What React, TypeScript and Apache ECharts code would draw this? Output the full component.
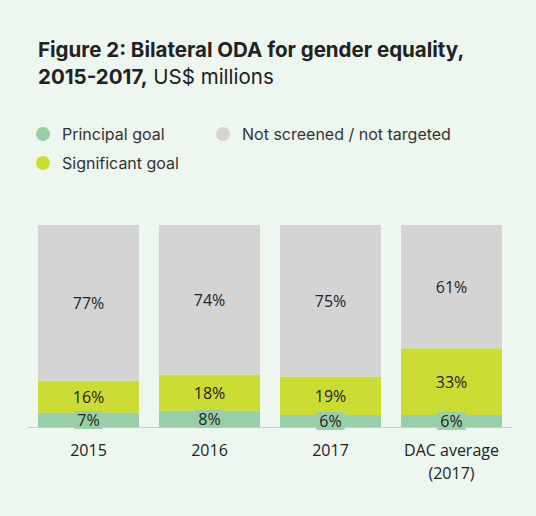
import React, { useEffect, useRef } from "react";
import * as echarts from "echarts";

const categories = ["2015", "2016", "2017", "DAC average\n(2017)"];
const principal = [7, 8, 6, 6];
const significant = [16, 18, 19, 33];
const notScreened = [77, 74, 75, 61];

const FONT = "Inter, 'Open Sans', sans-serif";
const LABEL_FONT = "'Open Sans', 'Noto Sans', sans-serif";

export default function App() {
  const ref = useRef<HTMLDivElement>(null);
  useEffect(() => {
    if (!ref.current) return;
    const chart = echarts.init(ref.current, undefined, { renderer: "svg" });
    const legendText = { fontFamily: FONT, fontSize: 16, color: "#333", padding: [0, 0, 0, 7] };
    chart.setOption({
      animation: false,
      backgroundColor: "#eef6f0",
      title: {
        left: 33,
        top: 31,
        text: "{b|Figure 2: Bilateral ODA for gender equality,}\n{b|2015-2017,}{n| US$ millions}",
        textStyle: {
          rich: {
            b: { fontFamily: FONT, fontSize: 20.5, fontWeight: 700, color: "#222", lineHeight: 27 },
            n: { fontFamily: FONT, fontSize: 20.5, fontWeight: 400, color: "#222", lineHeight: 27 },
          },
        },
      },
      legend: [
        { data: ["Principal goal"], left: 31, top: 121, icon: "circle", itemWidth: 14, itemHeight: 14, textStyle: legendText },
        { data: ["Not screened / not targeted"], left: 211, top: 121, icon: "circle", itemWidth: 14, itemHeight: 14, textStyle: legendText },
        { data: ["Significant goal"], left: 31, top: 150, icon: "circle", itemWidth: 14, itemHeight: 14, textStyle: legendText },
      ],
      grid: { left: 28, right: 24, top: 225, bottom: 89 },
      xAxis: {
        type: "category",
        data: categories,
        axisTick: { show: false },
        axisLine: { show: true, lineStyle: { color: "#c8cec9", width: 1 } },
        axisLabel: { interval: 0, fontFamily: LABEL_FONT, fontSize: 16, color: "#222", margin: 11, lineHeight: 23 },
      },
      yAxis: { type: "value", min: 0, max: 100, show: false },
      series: [
        {
          name: "Principal goal",
          type: "bar",
          stack: "a",
          barWidth: 101,
          data: principal,
          itemStyle: { color: "#98cfa8" },
          label: {
            show: true,
            position: "inside",
            formatter: "{c}%",
            fontFamily: LABEL_FONT,
            fontSize: 16,
            color: "#222",
            backgroundColor: "#98cfa8",
            padding: [1, 3, 1, 3],
          },
        },
        {
          name: "Significant goal",
          type: "bar",
          stack: "a",
          barWidth: 101,
          data: significant,
          itemStyle: { color: "#cbdc35" },
          label: { show: true, position: "inside", formatter: "{c}%", fontFamily: LABEL_FONT, fontSize: 16, color: "#222" },
        },
        {
          name: "Not screened / not targeted",
          type: "bar",
          stack: "a",
          barWidth: 101,
          data: notScreened,
          itemStyle: { color: "#d4d4d4" },
          label: { show: true, position: "inside", formatter: "{c}%", fontFamily: LABEL_FONT, fontSize: 16, color: "#222" },
        },
      ],
    });
    return () => chart.dispose();
  }, []);
  return <div ref={ref} style={{ position: "fixed", left: 0, top: 0, width: 536, height: 516 }} />;
}
